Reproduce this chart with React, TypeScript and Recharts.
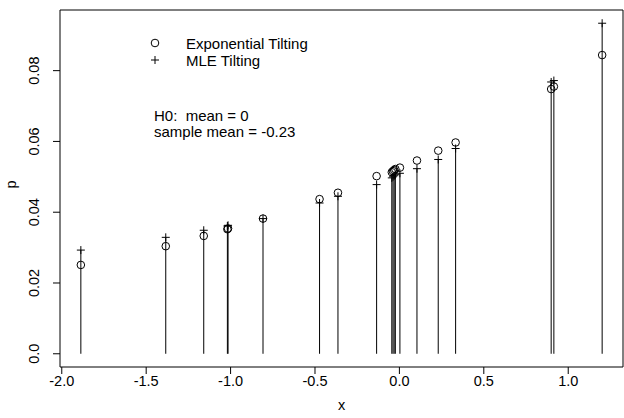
import React from 'react';
import { ScatterChart, Scatter, XAxis, YAxis, ReferenceLine, ReferenceArea } from 'recharts';

// sample points and the two sets of tilted weights
const xValues = [-1.887, -1.384, -1.159, -1.019, -1.015, -0.808, -0.473, -0.364, -0.135, -0.045, -0.038, -0.031, -0.024, 0.003, 0.104, 0.23, 0.333, 0.899, 0.915, 1.201];
const expTilt = [0.0251, 0.0304, 0.0333, 0.0352, 0.0354, 0.0382, 0.0437, 0.0455, 0.0502, 0.0513, 0.0516, 0.0519, 0.0522, 0.0526, 0.0546, 0.0574, 0.0597, 0.0748, 0.0755, 0.0844];
const mleTilt = [0.0293, 0.0329, 0.0349, 0.0361, 0.0363, 0.0382, 0.0426, 0.0445, 0.0478, 0.0497, 0.05, 0.0503, 0.0506, 0.051, 0.0523, 0.0549, 0.058, 0.0768, 0.0772, 0.0934];

const xTicks = [-2, -1.5, -1, -0.5, 0, 0.5, 1];
const yTicks = [0, 0.02, 0.04, 0.06, 0.08];
const xDomain: [number, number] = [-2.0105, 1.3245];
const yDomain: [number, number] = [-0.003736, 0.097136];

const FONT = '"Liberation Sans", Arial, sans-serif';

const expData = xValues.map((x, i) => ({ x, p: expTilt[i] }));
const mleData = xValues.map((x, i) => ({ x, p: mleTilt[i] }));

const OpenCircle = (props: any) => (
  <circle cx={props.cx} cy={props.cy} r={3.8} fill="none" stroke="#000" strokeWidth={1} />
);

const PlusMark = (props: any) => {
  const { cx, cy } = props;
  return <path d={`M${cx - 4},${cy}H${cx + 4}M${cx},${cy - 4}V${cy + 4}`} stroke="#000" strokeWidth={1} fill="none" />;
};

const YTick = ({ x, y, payload }: any) => {
  const tx = x - 12;
  return (
    <text x={tx} y={y} transform={`rotate(-90, ${tx}, ${y})`} textAnchor="middle" fontSize={14.5} fill="#000" fontFamily={FONT}>
      {payload.value === 0 ? '0.0' : payload.value.toFixed(2)}
    </text>
  );
};

const App: React.FC = () => {
  return (
    <div style={{ position: 'absolute', left: 0, top: 0, width: 624, height: 418, background: '#fff', fontFamily: FONT }}>
      <ScatterChart width={624} height={418} margin={{ top: 10, right: 1, bottom: 11, left: 20 }}>
        <XAxis
          type="number"
          dataKey="x"
          domain={xDomain}
          ticks={xTicks}
          tickFormatter={(v: number) => v.toFixed(1)}
          axisLine={false}
          tickSize={7}
          tickLine={{ stroke: '#000' }}
          tick={{ fill: '#000', fontSize: 14.5, fontFamily: FONT }}
          height={40}
          label={{ value: 'x', position: 'insideBottom', offset: -3, fill: '#000', fontSize: 14.5, fontFamily: FONT }}
        />
        <YAxis
          type="number"
          dataKey="p"
          domain={yDomain}
          ticks={yTicks}
          axisLine={false}
          tickSize={7}
          tickLine={{ stroke: '#000' }}
          tick={<YTick />}
          width={40}
          label={{ value: 'p', angle: -90, position: 'insideLeft', offset: -9, fill: '#000', fontSize: 14.5, fontFamily: FONT }}
        />
        <ReferenceArea x1={xDomain[0]} x2={xDomain[1]} y1={yDomain[0]} y2={yDomain[1]} fill="none" stroke="#000" strokeWidth={1} ifOverflow="visible" />
        {mleData.map((d) => (
          <ReferenceLine key={`h-${d.x}`} segment={[{ x: d.x, y: 0 }, { x: d.x, y: d.p }]} stroke="#000" strokeWidth={1} />
        ))}
        <Scatter name="Exponential Tilting" data={expData} shape={<OpenCircle />} isAnimationActive={false} />
        <Scatter name="MLE Tilting" data={mleData} shape={<PlusMark />} isAnimationActive={false} />
      </ScatterChart>
      <svg width={624} height={418} style={{ position: 'absolute', left: 0, top: 0, pointerEvents: 'none' }}>
        <circle cx={155} cy={43} r={3.8} fill="none" stroke="#000" />
        <path d="M151,60H159M155,56V64" stroke="#000" />
        <text x={186} y={43} dominantBaseline="central" fontSize={15} fontFamily={FONT} fill="#000">Exponential Tilting</text>
        <text x={186} y={60} dominantBaseline="central" fontSize={15} fontFamily={FONT} fill="#000">MLE Tilting</text>
        <text x={154} y={115} dominantBaseline="central" fontSize={15} fontFamily={FONT} fill="#000" style={{ whiteSpace: 'pre' }}>{'H0:  mean = 0'}</text>
        <text x={154} y={131} dominantBaseline="central" fontSize={15} fontFamily={FONT} fill="#000">sample mean = -0.23</text>
      </svg>
    </div>
  );
};

export default App;
